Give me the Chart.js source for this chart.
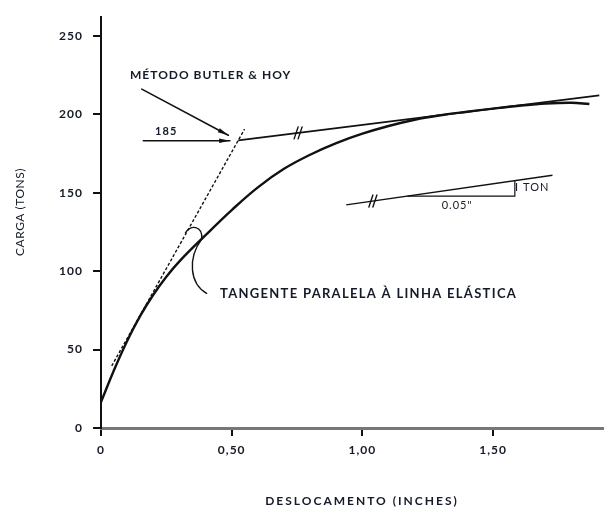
<!DOCTYPE html>
<html>
<head>
<meta charset="utf-8">
<script src="https://cdn.jsdelivr.net/npm/chart.js@4.4.0/dist/chart.umd.min.js"></script>
<style>
  html, body { margin: 0; padding: 0; background: #fff; }
</style>
</head>
<body>
<canvas id="grafico" width="604" height="508"></canvas>
<script>
// Curva carga x deslocamento
const curvaX = [0, 0.05, 0.1, 0.15, 0.2, 0.25, 0.3, 0.4, 0.5, 0.6, 0.7, 0.8, 0.9, 1.0, 1.1, 1.2, 1.3, 1.4, 1.5, 1.6, 1.7, 1.8, 1.868];
const curvaY = [16.5, 37.0, 55.5, 71.5, 85.0, 96.5, 106.3, 123.0, 139.0, 153.5, 165.3, 174.3, 181.7, 187.7, 192.6, 196.6, 199.5, 201.7, 203.7, 205.5, 206.9, 207.4, 206.6];

// Reta do método Butler & Hoy
const butlerX = [0.525, 1.906];
const butlerY = [183.5, 212.1];

// Tangente paralela à linha elástica (tracejada)
const tangenteX = [0.041, 0.549];
const tangenteY = [39.6, 190.6];

// Escala de inclinação (1 ton / 0.05")
const escalaX = [0.938, 1.727];
const escalaY = [142.3, 161.2];
const trianguloX = [1.172, 1.583, 1.583];
const trianguloY = [147.9, 147.9, 157.8];

// Eixos
const xTicks = [0, 0.5, 1.0, 1.5];
const xTickLabels = ['0', '0,50', '1,00', '1,50'];
const yTicks = [0, 50, 100, 150, 200, 250];

const pts = (xs, ys) => xs.map((x, i) => ({ x, y: ys[i] }));

const TEXT = '#151a28';
const LINE = '#111';

// desenha anotações, setas e títulos dos eixos
const anotacoes = {
  id: 'anotacoes',
  beforeDraw(chart) {
    chart.ctx.letterSpacing = '1px';
  },
  afterDraw(chart) {
    const { ctx, scales: { x, y } } = chart;
    const px = (v) => x.getPixelForValue(v);
    const py = (v) => y.getPixelForValue(v);
    ctx.save();
    ctx.strokeStyle = LINE;
    ctx.fillStyle = TEXT;
    ctx.lineCap = 'round';

    const seta = (x0, y0, x1, y1) => {
      const ax = px(x0), ay = py(y0), bx = px(x1), by = py(y1);
      ctx.lineWidth = 1.6;
      ctx.beginPath(); ctx.moveTo(ax, ay); ctx.lineTo(bx, by); ctx.stroke();
      const ang = Math.atan2(by - ay, bx - ax);
      ctx.beginPath();
      ctx.moveTo(bx, by);
      ctx.lineTo(bx - 11 * Math.cos(ang - 0.2), by - 11 * Math.sin(ang - 0.2));
      ctx.lineTo(bx - 11 * Math.cos(ang + 0.2), by - 11 * Math.sin(ang + 0.2));
      ctx.closePath();
      ctx.fillStyle = LINE;
      ctx.fill();
      ctx.fillStyle = TEXT;
    };
    const corte = (xv, yv) => {
      const cx = px(xv), cy = py(yv);
      ctx.lineWidth = 1.4;
      [-2, 2].forEach(d => {
        ctx.beginPath();
        ctx.moveTo(cx + d + 2, cy - 6);
        ctx.lineTo(cx + d - 2, cy + 6);
        ctx.stroke();
      });
    };

    seta(0.156, 216.1, 0.487, 186.7);
    seta(0.162, 183.2, 0.493, 183.2);
    corte(0.754, 183.5 + (0.754 - 0.525) * 20.7);
    corte(1.04, 142.3 + (1.04 - 0.938) * 23.95);

    // arco e linha de chamada da tangente
    ctx.lineWidth = 1.4;
    ctx.beginPath();
    ctx.moveTo(px(0.323), py(124.5));
    ctx.bezierCurveTo(px(0.34), py(130), px(0.39), py(129), px(0.385), py(120.5));
    ctx.stroke();
    ctx.beginPath();
    ctx.moveTo(px(0.385), py(120.5));
    ctx.bezierCurveTo(px(0.33), py(108), px(0.34), py(92), px(0.404), py(85.9));
    ctx.stroke();

    ctx.textBaseline = 'middle';
    ctx.textAlign = 'left';
    ctx.font = 'bold 12px Lato';
    ctx.letterSpacing = '1px';
    ctx.fillText('MÉTODO BUTLER & HOY', 130, 75);
    ctx.font = 'bold 13px Lato';
    ctx.letterSpacing = '1.3px';
    ctx.fillText('TANGENTE PARALELA À LINHA ELÁSTICA', px(0.455), py(85.7));
    ctx.font = 'bold 11px Lato';
    ctx.letterSpacing = '1px';
    ctx.fillText('185', px(0.207), py(189));
    ctx.font = '11px Lato';
    ctx.fillText('I TON', px(1.584), py(153.1));
    ctx.textAlign = 'center';
    ctx.fillText('0.05"', px(1.362), py(141.8));

    // títulos dos eixos
    ctx.font = 'bold 12px Lato';
    ctx.letterSpacing = '2px';
    ctx.fillText('DESLOCAMENTO (INCHES)', 362, 501);
    ctx.save();
    ctx.translate(20, 212);
    ctx.rotate(-Math.PI / 2);
    ctx.font = '12px Lato';
    ctx.letterSpacing = '0.5px';
    ctx.fillText('CARGA (TONS)', 0, 0);
    ctx.restore();
    ctx.restore();
  }
};

const linha = (data, extra) => Object.assign({
  data, showLine: true, pointRadius: 0, borderColor: LINE, borderWidth: 1.5, fill: false
}, extra);

new Chart(document.getElementById('grafico'), {
  type: 'scatter',
  data: {
    datasets: [
      linha(pts(curvaX, curvaY), { borderWidth: 2.4, tension: 0.4 }),
      linha(pts(butlerX, butlerY), { borderWidth: 1.8 }),
      linha(pts(tangenteX, tangenteY), { borderWidth: 1.4, borderDash: [3, 2] }),
      linha(pts(escalaX, escalaY), { borderWidth: 1.4 }),
      linha(pts(trianguloX, trianguloY), { borderWidth: 1.2 })
    ]
  },
  options: {
    responsive: false,
    animation: false,
    layout: { padding: { top: 11, right: 0, left: 0, bottom: 0 } },
    plugins: {
      legend: { display: false },
      tooltip: { enabled: false }
    },
    scales: {
      x: {
        type: 'linear',
        min: 0,
        max: 1.924,
        afterBuildTicks: (axis) => { axis.ticks = xTicks.map(v => ({ value: v })); },
        afterFit: (axis) => { axis.height = 80; },
        ticks: {
          callback: (v, i) => xTickLabels[i],
          font: { family: 'Lato', size: 12, weight: 'bold' },
          color: TEXT,
          padding: 7,
          maxRotation: 0
        },
        grid: { drawOnChartArea: false, drawTicks: true, tickLength: 8, tickColor: LINE, lineWidth: 2 },
        border: { display: true, color: '#777', width: 3 }
      },
      y: {
        type: 'linear',
        min: 0,
        max: 262,
        afterBuildTicks: (axis) => { axis.ticks = yTicks.map(v => ({ value: v })); },
        afterFit: (axis) => { axis.width = 101; },
        ticks: {
          font: { family: 'Lato', size: 12, weight: 'bold' },
          color: TEXT,
          padding: 10
        },
        grid: { drawOnChartArea: false, drawTicks: true, tickLength: 8, tickColor: LINE, lineWidth: 2 },
        border: { display: true, color: LINE, width: 2 }
      }
    }
  },
  plugins: [anotacoes]
});
</script>
</body>
</html>
